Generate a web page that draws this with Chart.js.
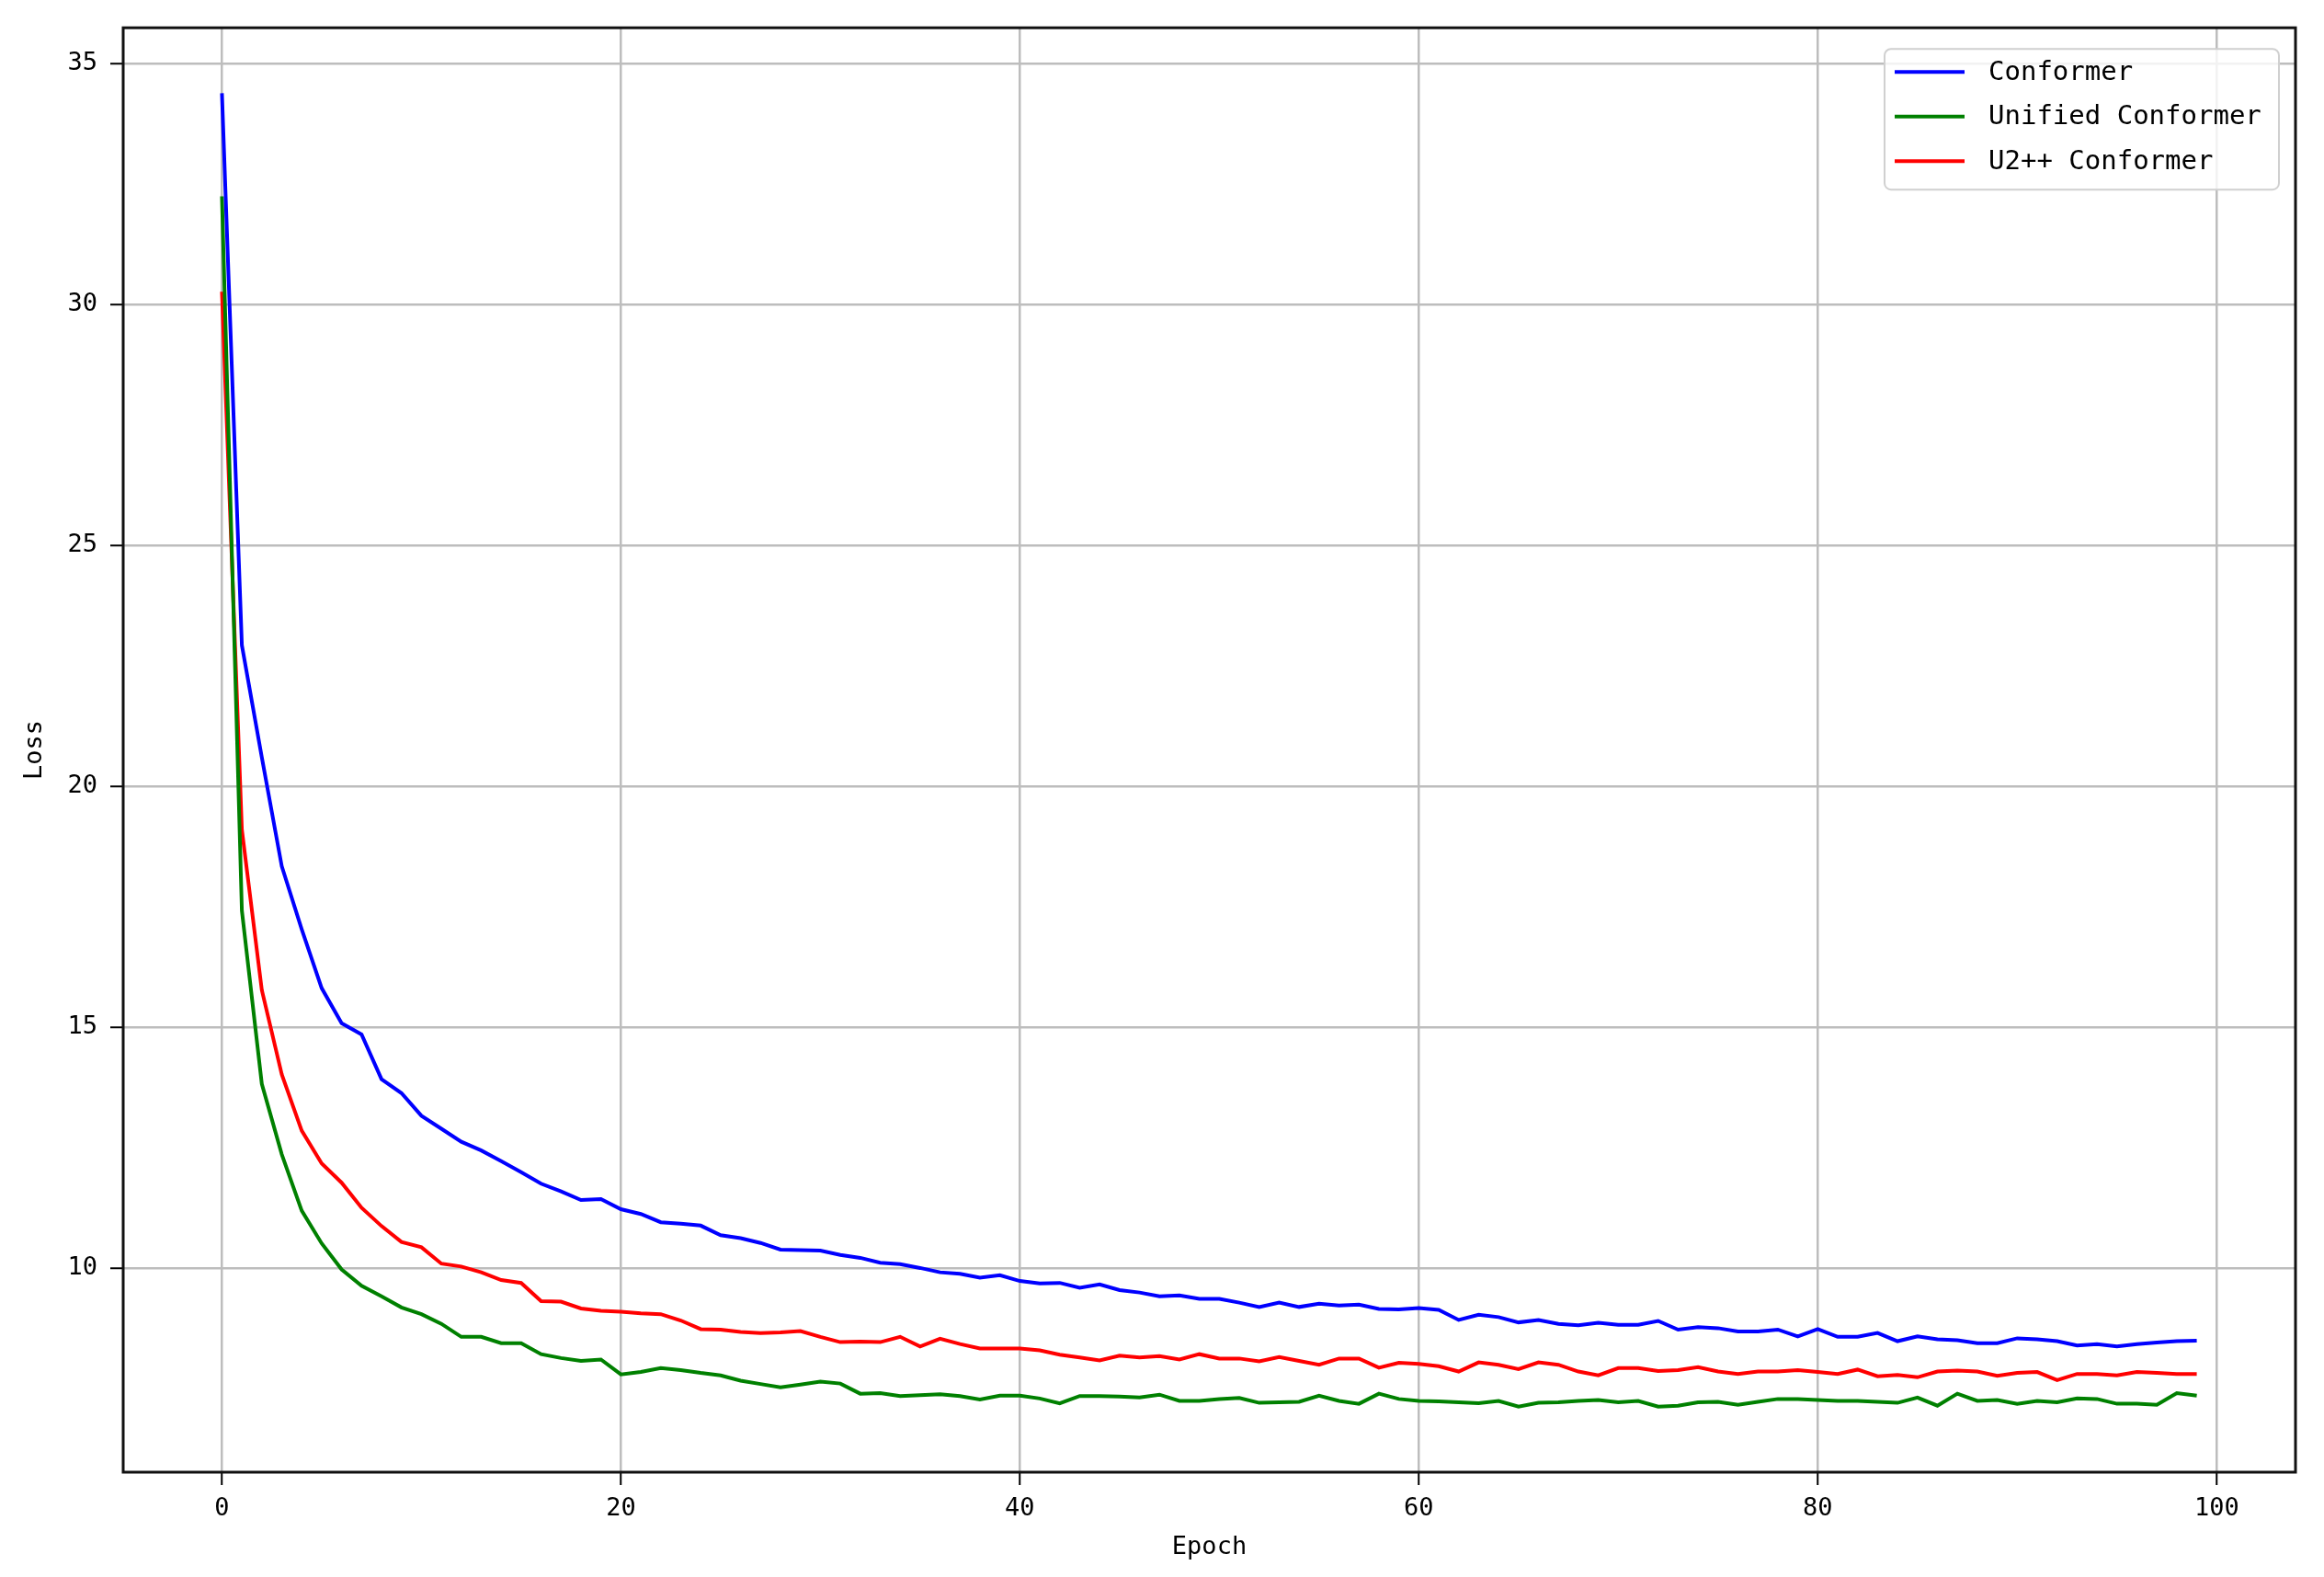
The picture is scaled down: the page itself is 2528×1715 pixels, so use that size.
<!DOCTYPE html>
<html>
<head>
<meta charset="utf-8">
<script src="https://cdn.jsdelivr.net/npm/chart.js@4.4.1/dist/chart.umd.min.js"></script>
<style>
  html, body { margin: 0; padding: 0; background: #fff; }
  canvas { display: block; }
</style>
</head>
<body>
<canvas id="chartLoss" width="2528" height="1715"></canvas>
<script>
const epochs = Array.from({ length: 100 }, (_, i) => i);

const conformer = [
  34.39, 22.93, 20.6, 18.34, 17.03, 15.81, 15.08, 14.85, 13.92, 13.63,
  13.16, 12.89, 12.62, 12.44, 12.22, 11.99, 11.75, 11.59, 11.41, 11.43,
  11.22, 11.12, 10.95, 10.92, 10.88, 10.68, 10.62, 10.52, 10.38, 10.37,
  10.36, 10.27, 10.21, 10.11, 10.08, 10.0, 9.91, 9.88, 9.80, 9.85,
  9.73, 9.68, 9.69, 9.59, 9.66, 9.54, 9.49, 9.41, 9.43, 9.36,
  9.36, 9.28, 9.19, 9.28, 9.19, 9.26, 9.22, 9.24, 9.15, 9.14,
  9.17, 9.13, 8.92, 9.03, 8.98, 8.87, 8.92, 8.84, 8.81, 8.86,
  8.82, 8.82, 8.90, 8.72, 8.77, 8.75, 8.68, 8.68, 8.72, 8.58,
  8.73, 8.57, 8.57, 8.65, 8.48, 8.58, 8.52, 8.50, 8.44, 8.44,
  8.54, 8.52, 8.48, 8.39, 8.42, 8.37, 8.42, 8.45, 8.48, 8.49
];

const unifiedConformer = [
  32.25, 17.42, 13.82, 12.36, 11.19, 10.51, 9.97, 9.63, 9.41, 9.18,
  9.04, 8.84, 8.57, 8.57, 8.44, 8.44, 8.21, 8.13, 8.07, 8.10,
  7.79, 7.84, 7.92, 7.88, 7.82, 7.77, 7.66, 7.59, 7.52, 7.58,
  7.64, 7.60, 7.39, 7.40, 7.34, 7.36, 7.38, 7.34, 7.27, 7.35,
  7.35, 7.29, 7.19, 7.34, 7.34, 7.33, 7.31, 7.37, 7.24, 7.24,
  7.28, 7.30, 7.20, 7.21, 7.22, 7.35, 7.24, 7.18, 7.39, 7.28,
  7.24, 7.23, 7.21, 7.19, 7.24, 7.12, 7.20, 7.21, 7.24, 7.26,
  7.21, 7.24, 7.12, 7.14, 7.21, 7.22, 7.16, 7.22, 7.28, 7.28,
  7.26, 7.24, 7.24, 7.22, 7.20, 7.31, 7.14, 7.39, 7.24, 7.26,
  7.18, 7.24, 7.21, 7.29, 7.28, 7.18, 7.18, 7.16, 7.40, 7.35
];

const u2ppConformer = [
  30.27, 19.1, 15.77, 14.02, 12.85, 12.17, 11.77, 11.25, 10.87, 10.54,
  10.43, 10.09, 10.03, 9.91, 9.75, 9.69, 9.31, 9.30, 9.16, 9.11,
  9.09, 9.06, 9.04, 8.91, 8.73, 8.72, 8.67, 8.65, 8.66, 8.69,
  8.57, 8.46, 8.47, 8.46, 8.57, 8.37, 8.53, 8.42, 8.33, 8.33,
  8.33, 8.29, 8.20, 8.14, 8.08, 8.18, 8.14, 8.17, 8.10, 8.21,
  8.12, 8.12, 8.06, 8.15, 8.07, 7.99, 8.12, 8.12, 7.93, 8.03,
  8.01, 7.96, 7.85, 8.04, 7.99, 7.90, 8.04, 7.99, 7.85, 7.77,
  7.92, 7.92, 7.86, 7.88, 7.94, 7.85, 7.80, 7.85, 7.85, 7.88,
  7.84, 7.80, 7.89, 7.75, 7.78, 7.73, 7.85, 7.87, 7.85, 7.76,
  7.82, 7.84, 7.67, 7.80, 7.80, 7.77, 7.84, 7.82, 7.80, 7.80
];

const xTicks = [0, 20, 40, 60, 80, 100];
const yTicks = [10, 15, 20, 25, 30, 35];

const monoFont = '"DejaVu Sans Mono", "Liberation Mono", monospace';

// matplotlib style box around the plot + legend inside the axes
const frameAndLegend = {
  id: 'frameAndLegend',
  afterDraw(chart) {
    const { ctx, chartArea } = chart;
    ctx.save();
    ctx.strokeStyle = '#111';
    ctx.lineWidth = 3;
    ctx.strokeRect(chartArea.left, chartArea.top, chartArea.right - chartArea.left, chartArea.bottom - chartArea.top);

    const w = 429, h = 153;
    const bx = chartArea.right - 18 - w;
    const by = chartArea.top + 23;
    ctx.beginPath();
    ctx.roundRect(bx, by, w, h, 7);
    ctx.fillStyle = 'rgba(255,255,255,0.8)';
    ctx.fill();
    ctx.strokeStyle = '#d0d0d0';
    ctx.lineWidth = 2;
    ctx.stroke();

    ctx.font = '29px ' + monoFont;
    ctx.textBaseline = 'middle';
    ctx.textAlign = 'left';
    chart.data.datasets.forEach((ds, i) => {
      const y = by + 25 + i * 48.5;
      ctx.beginPath();
      ctx.moveTo(bx + 11, y);
      ctx.lineTo(bx + 87, y);
      ctx.strokeStyle = ds.borderColor;
      ctx.lineWidth = 4;
      ctx.stroke();
      ctx.fillStyle = '#000';
      ctx.fillText(ds.label, bx + 113, y + 1);
    });
    ctx.restore();
  }
};

const ctx = document.getElementById('chartLoss');

new Chart(ctx, {
  type: 'line',
  data: {
    labels: epochs,
    datasets: [{
      label: 'Conformer',
      data: conformer,
      borderColor: '#0000ff',
      borderWidth: 4,
      pointRadius: 0
    }, {
      label: 'Unified Conformer',
      data: unifiedConformer,
      borderColor: '#008000',
      borderWidth: 4,
      pointRadius: 0
    }, {
      label: 'U2++ Conformer',
      data: u2ppConformer,
      borderColor: '#ff0000',
      borderWidth: 4,
      pointRadius: 0
    }]
  },
  options: {
    responsive: false,
    animation: false,
    devicePixelRatio: 1,
    layout: {
      padding: { top: 29, right: 31, left: 0, bottom: 0 }
    },
    plugins: {
      legend: { display: false },
      tooltip: { enabled: false }
    },
    scales: {
      x: {
        type: 'linear',
        min: -4.95,
        max: 103.95,
        afterBuildTicks: scale => { scale.ticks = xTicks.map(v => ({ value: v })); },
        afterFit: scale => { scale.height = 114; },
        grid: { color: '#bdbdbd', lineWidth: 2.5, tickColor: '#000', tickLength: 14, tickWidth: 2 },
        border: { display: false },
        ticks: { color: '#000', padding: 10, font: { family: monoFont, size: 27 }, maxRotation: 0 },
        title: {
          display: true,
          text: 'Epoch',
          color: '#000',
          font: { family: monoFont, size: 27 },
          padding: { top: 0, bottom: 16 }
        }
      },
      y: {
        min: 5.76,
        max: 35.75,
        afterBuildTicks: scale => { scale.ticks = yTicks.map(v => ({ value: v })); },
        afterFit: scale => { scale.width = 134; },
        grid: { color: '#bdbdbd', lineWidth: 2.5, tickColor: '#000', tickLength: 14, tickWidth: 2 },
        border: { display: false },
        ticks: { color: '#000', padding: 14, font: { family: monoFont, size: 27 } },
        title: {
          display: true,
          text: 'Loss',
          color: '#000',
          font: { family: monoFont, size: 27 },
          padding: { top: 22, bottom: 0 }
        }
      }
    }
  },
  plugins: [frameAndLegend]
});
</script>
</body>
</html>
